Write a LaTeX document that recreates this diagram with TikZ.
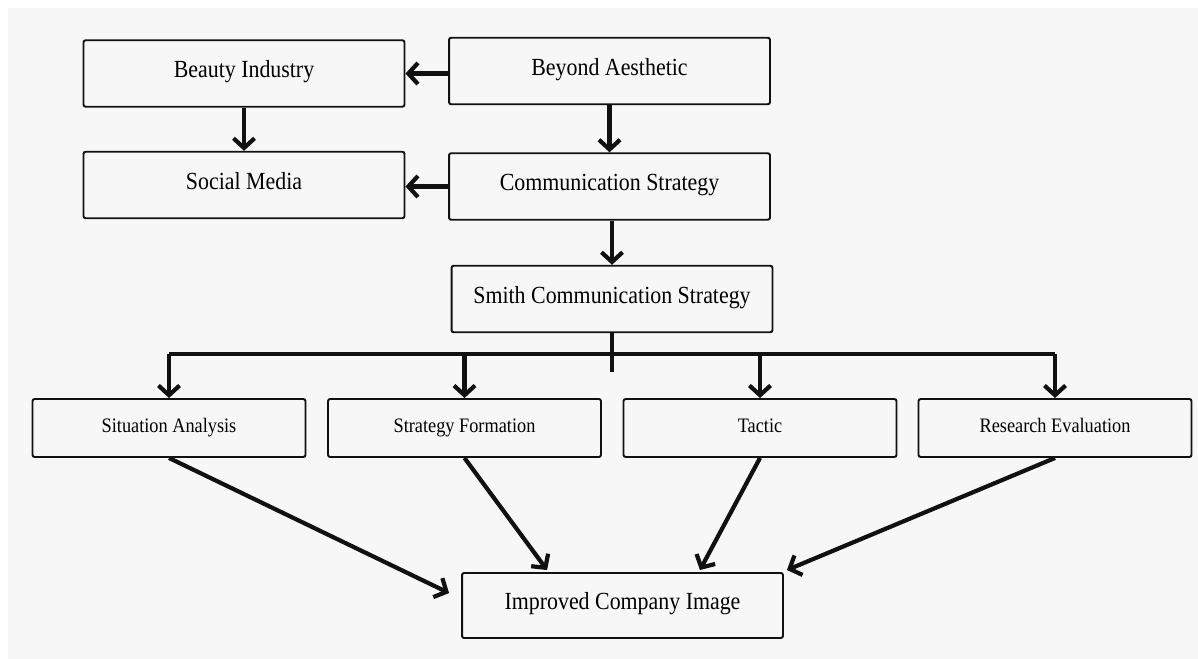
\documentclass[tikz,border=0pt]{standalone}
\usepackage{fontspec}
\setmainfont{Liberation Serif}[FakeStretch=0.89]
\usetikzlibrary{arrows.meta}
\definecolor{pagegray}{RGB}{247,247,247}
\definecolor{inkblack}{RGB}{17,17,17}

\begin{document}
\begin{tikzpicture}[x=0.02cm, y=-0.02cm]
    \tikzstyle{block} = [rectangle, draw=inkblack, line width=1.1pt, rounded corners=1.2pt, fill=pagegray, minimum width=6.42cm, minimum height=1.33cm, inner sep=0pt, text height=0.7em, text depth=0.22em, font=\fontsize{14}{16}\selectfont]
    \tikzstyle{small} = [block, minimum width=5.46cm, minimum height=1.16cm, font=\fontsize{11.7}{14}\selectfont]
    \tikzstyle{arrow} = [draw=inkblack, line width=2.4pt, -{Straight Barb[length=5.5pt,width=12pt]}]
    \tikzstyle{link} = [draw=inkblack, line width=2.4pt]

    \useasboundingbox (0,0) rectangle (1198,659);
    \fill[white] (0,0) rectangle (1198,659);
    \fill[pagegray] (8,8) rectangle (1198,659);

    \node[block] (beauty) at (244,73.5) {Beauty Industry};
    \node[block] (beyond) at (609.5,71) {Beyond Aesthetic};
    \node[block] (social) at (244,185) {Social Media};
    \node[block] (comm) at (609.5,186.5) {Communication Strategy};
    \node[block] (smith) at (612,299) {Smith Communication Strategy};

    \node[small] (situation) at (169,428) {Situation Analysis};
    \node[small] (formation) at (464.5,428) {Strategy Formation};
    \node[small] (tactic) at (760,428) {Tactic};
    \node[small] (research) at (1055,428) {Research Evaluation};

    \node[block, minimum height=1.3cm] (improved) at (622.5,605.5) {Improved Company Image};

    \draw[arrow] (beyond.west |- beauty.east) -- (beauty.east);
    \draw[arrow] (comm.west) -- (comm.west -| social.east);
    \draw[arrow] (beauty.south) -- (social.north);
    \draw[arrow] (beyond.south) -- (comm.north);
    \draw[arrow] (comm.south -| smith.north) -- (smith.north);

    \coordinate (bus) at ([shift={(0,21)}]smith.south);
    \draw[link] (smith.south) -- ++(0,39);
    \draw[link] (bus -| situation) -- (bus -| research);
    \draw[arrow] (bus -| situation) -- (situation.north);
    \draw[arrow] (bus -| formation) -- (formation.north);
    \draw[arrow] (bus -| tactic) -- (tactic.north);
    \draw[arrow] (bus -| research) -- (research.north);

    \draw[arrow] (situation.south) -- ([shift={(-12,21)}]improved.north west);
    \draw[arrow] (formation.south) -- ([shift={(86,-2)}]improved.north west);
    \draw[arrow] (tactic.south) -- ([shift={(-84,-2)}]improved.north east);
    \draw[arrow] (research.south) -- ([shift={(3,-2)}]improved.north east);
\end{tikzpicture}
\end{document}
